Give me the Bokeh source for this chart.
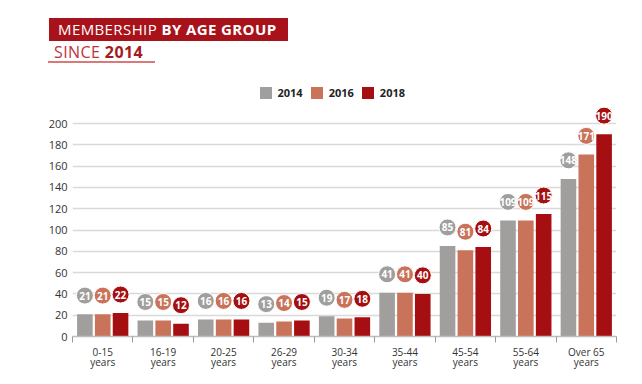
import numpy as np
from bokeh.plotting import figure
from bokeh.layouts import column
from bokeh.models import (Range1d, FixedTicker, Legend, LegendItem,
                          ColumnDataSource, Div)
from bokeh.core.properties import value
from bokeh.embed import file_html
from bokeh.resources import INLINE

categories = ["0-15\nyears", "16-19\nyears", "20-25\nyears", "26-29\nyears",
              "30-34\nyears", "35-44\nyears", "45-54\nyears", "55-64\nyears",
              "Over 65\nyears"]
years = ["2014", "2016", "2018"]
v2014 = [21, 15, 16, 13, 19, 41, 85, 109, 148]
v2016 = [21, 15, 16, 14, 17, 41, 81, 109, 171]
v2018 = [22, 12, 16, 15, 18, 40, 84, 115, 190]
y_ticks = [0, 20, 40, 60, 80, 100, 120, 140, 160, 180, 200]

colors = ["#a09f9e", "#c9735a", "#a50f12"]
FONT = "Open Sans"
W = 642
DIV_H = 68
H = 384 - DIV_H

n = len(categories)
centers = np.arange(n) + 0.5
bounds = list(range(n + 1))

title_html = f"""
<div style="position:relative;width:{W}px;height:{DIV_H}px;font-family:'{FONT}';">
  <div style="position:absolute;left:49px;top:18px;width:239px;height:23px;
              background:#a8121a;color:#ffffff;font-size:15px;line-height:23px;
              padding-left:9px;box-sizing:border-box;letter-spacing:0.4px;
              white-space:nowrap;">
    <span style="font-weight:400;">MEMBERSHIP</span> <span style="font-weight:700;">BY AGE GROUP</span>
  </div>
  <div style="position:absolute;left:48px;top:44px;width:107px;font-size:16px;
              line-height:16px;padding-left:6px;padding-bottom:1px;
              border-bottom:2px solid #d87a7a;box-sizing:border-box;
              letter-spacing:0.4px;white-space:nowrap;">
    <span style="color:#c0323a;font-weight:400;">SINCE</span> <span style="color:#a31a20;font-weight:700;">2014</span>
  </div>
</div>
"""
title_div = Div(text=title_html, width=W, height=DIV_H, margin=0)

p = figure(width=W, height=H, x_range=Range1d(0, n), y_range=Range1d(0, 247.9),
           output_backend="svg", toolbar_location=None,
           min_border_left=72, min_border_right=26, min_border_top=4,
           min_border_bottom=48, margin=0)
p.outline_line_color = None
p.background_fill_color = "white"
p.border_fill_color = "white"

# grid
p.xgrid.visible = False
p.ygrid.ticker = FixedTicker(ticks=y_ticks)
p.ygrid.grid_line_color = "#d9d9d9"
p.ygrid.grid_line_width = 1.5

# y axis
p.yaxis.ticker = FixedTicker(ticks=y_ticks)
p.yaxis.axis_line_color = None
p.yaxis.major_tick_line_color = None
p.yaxis.minor_tick_line_color = None
p.yaxis.major_tick_out = 0
p.yaxis.major_label_standoff = 5
p.yaxis.major_label_text_font = FONT
p.yaxis.major_label_text_font_size = "11px"
p.yaxis.major_label_text_color = "#333333"

# x axis: labels at group centres, ticks at boundaries
p.xaxis.ticker = FixedTicker(ticks=list(centers), minor_ticks=bounds)
p.xaxis.major_label_overrides = {float(c): lab for c, lab in zip(centers, categories)}
p.xaxis.axis_line_color = "#bdbdbd"
p.xaxis.axis_line_width = 1.5
p.xaxis.major_tick_line_color = None
p.xaxis.major_tick_out = 0
p.xaxis.major_tick_in = 0
p.xaxis.minor_tick_line_color = "#9a9a9a"
p.xaxis.minor_tick_out = 6
p.xaxis.minor_tick_in = 0
p.xaxis.major_label_standoff = 2
p.xaxis.major_label_text_font = FONT
p.xaxis.major_label_text_font_size = "10px"
p.xaxis.major_label_text_line_height = 0.75
p.xaxis.major_label_text_color = "#333333"

offsets = [-0.295, 0.0, 0.295]
series = [v2014, v2016, v2018]
label_shift = 17.4  # data units above bar top for value bubbles
renderers = []
for vals, off, col in zip(series, offsets, colors):
    vals = np.array(vals, dtype=float)
    src = ColumnDataSource(dict(x=centers + off, top=vals, ly=vals + label_shift,
                                txt=[str(int(v)) for v in vals]))
    r = p.vbar(x="x", top="top", width=0.258, source=src, fill_color=col,
               line_color=None)
    renderers.append(r)
    p.scatter(x="x", y="ly", size=17, source=src, fill_color=col,
              line_color="white", line_width=1)
    p.text(x="x", y="ly", text="txt", source=src, text_align="center",
           text_baseline="middle", text_color="white", text_font=value(FONT),
           text_font_style="bold", text_font_size="10px")

legend = Legend(items=[LegendItem(label=y, renderers=[r]) for y, r in zip(years, renderers)],
                orientation="horizontal", location=(185.5, 236))
legend.padding = 0
legend.margin = 0
legend.border_line_color = None
legend.background_fill_alpha = 0
legend.glyph_width = 15
legend.glyph_height = 15
legend.label_height = 15
legend.label_standoff = 5
legend.spacing = 6
legend.label_text_font = FONT
legend.label_text_font_style = "bold"
legend.label_text_font_size = "11px"
legend.label_text_color = "#222222"
p.add_layout(legend)

layout = column(title_div, p, spacing=0)
open("out.html", "w").write(file_html(layout, INLINE))
